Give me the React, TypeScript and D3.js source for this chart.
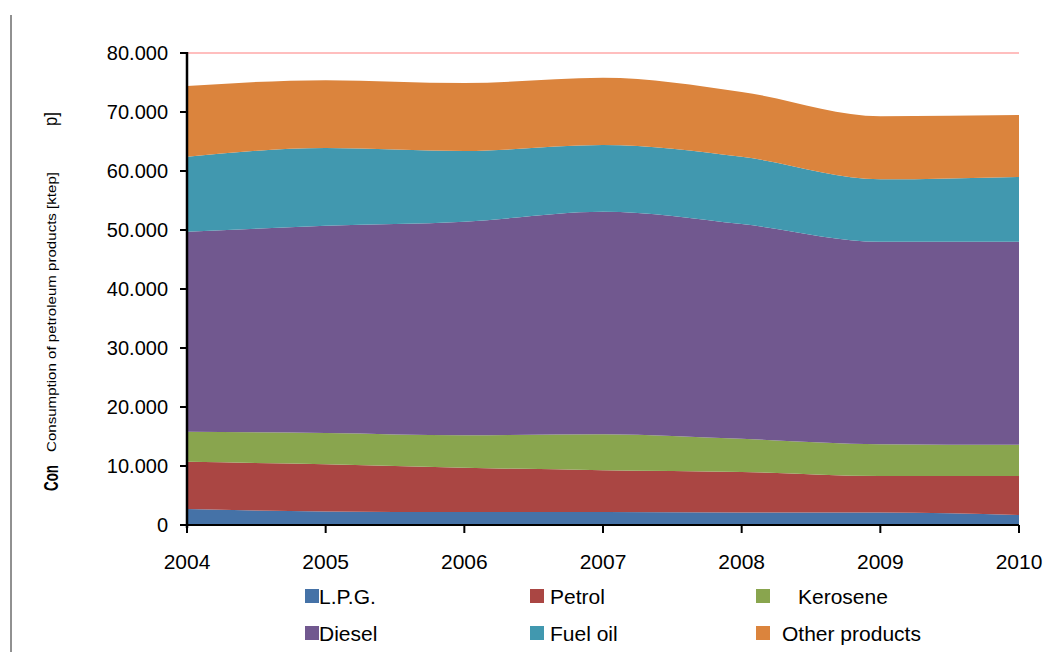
import React from 'react'
import * as d3 from 'd3'

const years = [2004, 2005, 2006, 2007, 2008, 2009, 2010]
const lpg = [2.7, 2.3, 2.2, 2.2, 2.1, 2.1, 1.7]
const petrol = [8.0, 8.0, 7.5, 7.1, 6.9, 6.2, 6.6]
const kerosene = [5.1, 5.3, 5.5, 6.1, 5.6, 5.4, 5.3]
const diesel = [33.9, 35.1, 36.2, 37.7, 36.4, 34.3, 34.4]
const fuelOil = [12.7, 13.2, 12.0, 11.3, 11.4, 10.6, 11.0]
const otherProducts = [12.0, 11.5, 11.5, 11.4, 11.0, 10.7, 10.5]

const seriesNames = ['L.P.G.', 'Petrol', 'Kerosene', 'Diesel', 'Fuel oil', 'Other products']
const seriesColors = ['#4572a7', '#aa4643', '#89a54e', '#71588f', '#4198af', '#db843d']
const yTicks = [0, 10, 20, 30, 40, 50, 60, 70, 80]

const W = 1053
const H = 652

const fmtTick = (v: number) => (v === 0 ? '0' : `${v}.000`)

export default function App() {
  const x = d3.scaleLinear().domain([2004, 2010]).range([187, 1019])
  const y = d3.scaleLinear().domain([0, 80]).range([525, 53])

  const columns = [lpg, petrol, kerosene, diesel, fuelOil, otherProducts]
  const rows = years.map((yr, i) => {
    const r: Record<string, number> = { year: yr }
    seriesNames.forEach((n, k) => { r[n] = columns[k][i] })
    return r
  })
  const stack = d3.stack<Record<string, number>>().keys(seriesNames)
  const layers = stack(rows)

  const area = d3.area<d3.SeriesPoint<Record<string, number>>>()
    .x(d => x(d.data.year))
    .y0(d => y(d[0]))
    .y1(d => y(d[1]))
    .curve(d3.curveMonotoneX)

  // legend slots (two rows of three)
  const legendSwatchX = [305, 530, 756, 305, 530, 756]
  const legendTextX = [319, 550, 798, 319, 550, 782]
  const legendRowY = [589, 626]

  const axisFont = '"Liberation Sans", Arial, sans-serif'

  return (
    <svg width={W} height={H} style={{ position: 'absolute', left: 0, top: 0, background: '#fff' }}>
      <rect width={W} height={H} fill="#fff" />
      <line x1={11} x2={11} y1={15} y2={H} stroke="#222" strokeWidth={1} />

      {/* areas */}
      {layers.map((layer, i) => (
        <path key={layer.key} d={area(layer) || ''} fill={seriesColors[i]} />
      ))}

      {/* top reference line */}
      <line x1={x(2004)} x2={x(2010)} y1={y(80)} y2={y(80)} stroke="#ffa8a8" strokeWidth={1.5} />

      {/* y axis */}
      <line x1={187} x2={187} y1={y(80) - 1} y2={y(0) + 3} stroke="#000" strokeWidth={2.5} />
      {yTicks.map(t => (
        <g key={t}>
          <line x1={180} x2={187} y1={y(t)} y2={y(t)} stroke="#000" strokeWidth={2} />
          <text x={168} y={y(t) + 7} textAnchor="end" fontFamily={axisFont} fontSize={20} fill="#000">
            {fmtTick(t)}
          </text>
        </g>
      ))}

      {/* x axis */}
      <line x1={x(2004)} x2={x(2010)} y1={y(0)} y2={y(0)} stroke="#000" strokeWidth={2} />
      {years.map(yr => (
        <g key={yr}>
          <line x1={x(yr)} x2={x(yr)} y1={y(0)} y2={y(0) + 8} stroke="#000" strokeWidth={2} />
          <text x={x(yr)} y={569} textAnchor="middle" fontFamily={axisFont} fontSize={21} fill="#000">
            {yr}
          </text>
        </g>
      ))}

      {/* y axis title (clipped rendering as in source) */}
      <text transform="translate(58,491) rotate(-90)" fontFamily={axisFont} fontWeight="bold"
        fontSize={21} textLength={26} lengthAdjust="spacingAndGlyphs" fill="#000">Con</text>
      <text transform="translate(56,452) rotate(-90)" fontFamily={axisFont} fontSize={12}
        textLength={280} lengthAdjust="spacingAndGlyphs" fill="#000">
        Consumption of petroleum products [ktep]
      </text>
      <text transform="translate(57,126) rotate(-90)" fontFamily={axisFont} fontSize={19}
        textLength={14} lengthAdjust="spacingAndGlyphs" fill="#000">p]</text>

      {/* legend */}
      {seriesNames.map((n, i) => {
        const row = Math.floor(i / 3)
        return (
          <g key={n}>
            <rect x={legendSwatchX[i]} y={legendRowY[row]} width={14} height={14} fill={seriesColors[i]} />
            <text x={legendTextX[i]} y={legendRowY[row] + 15} fontFamily={axisFont} fontSize={21} fill="#000">
              {n}
            </text>
          </g>
        )
      })}
    </svg>
  )
}
